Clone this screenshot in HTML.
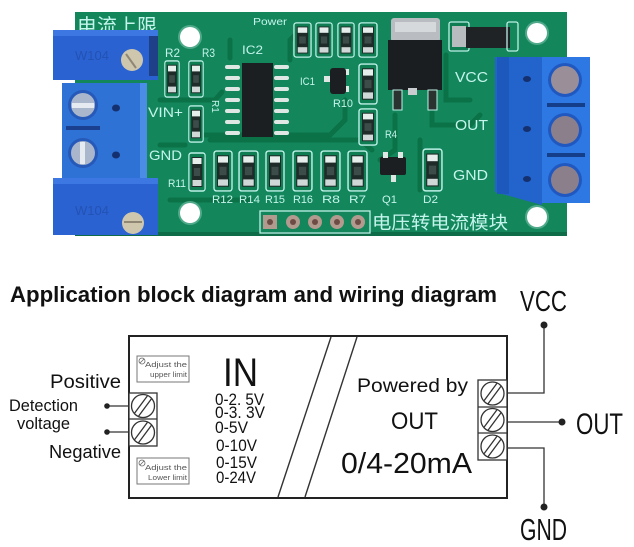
<!DOCTYPE html>
<html><head><meta charset="utf-8"><style>
html,body{margin:0;padding:0;background:#fff;}
svg{display:block;}
</style></head><body>
<svg width="634" height="547" viewBox="0 0 634 547" xmlns="http://www.w3.org/2000/svg">
<defs>
<symbol id="res" viewBox="0 0 20 40" preserveAspectRatio="none">
<rect x="1" y="1" width="18" height="38" rx="2.5" fill="#0f7d52" stroke="#bdf0e8" stroke-width="1.4"/>
<rect x="4" y="5" width="12" height="30" fill="#1e2b28"/>
<rect x="5" y="6" width="10" height="6" fill="#e6eeec"/>
<rect x="5" y="28" width="10" height="6" fill="#cfd8d6"/>
<rect x="6.5" y="16" width="7" height="8" fill="#3c4c48"/>
</symbol>
</defs>
<rect width="634" height="547" fill="#fff"/>

<!-- ===== PCB PHOTO ===== -->
<rect x="75" y="12" width="492" height="223" fill="#13875b"/>
<rect x="75" y="232" width="492" height="4" fill="#0e6d48"/>
<!-- traces -->
<g fill="none" stroke="#0b7147" stroke-width="5" stroke-linecap="round">
<path d="M160 100 L215 100 L222 92"/>
<path d="M160 145 L185 145"/>
<path d="M205 135 L330 135 L345 120 L345 100"/>
<path d="M210 140 L360 140 L372 150"/>
<path d="M395 115 L395 150 L380 160"/>
<path d="M432 112 L432 125 L470 125 L480 115"/>
<path d="M420 140 L420 190"/>
<path d="M230 40 L230 58"/>
<path d="M290 60 L290 40 L300 30"/>
<path d="M446 55 L446 100 L470 100"/>
<path d="M170 200 L250 200"/>
</g>
<!-- holes -->
<circle cx="190" cy="37" r="12" fill="#4fa98a"/><circle cx="190" cy="37" r="10" fill="#fff"/>
<circle cx="190" cy="213" r="12" fill="#4fa98a"/><circle cx="190" cy="213" r="10" fill="#fff"/>
<circle cx="537" cy="33" r="12" fill="#4fa98a"/><circle cx="537" cy="33" r="10" fill="#fff"/>
<circle cx="537" cy="217" r="12" fill="#4fa98a"/><circle cx="537" cy="217" r="10" fill="#fff"/>

<!-- silkscreen text -->
<g fill="#c4f4ec" font-family="Liberation Sans, sans-serif">
<text x="77" y="33" font-size="20" font-family="Liberation Sans, Noto Sans CJK SC, sans-serif" textLength="80" lengthAdjust="spacingAndGlyphs">电流上限</text>
<text x="253" y="25" font-size="10" textLength="34" lengthAdjust="spacingAndGlyphs">Power</text>
<text x="165" y="57" font-size="12" textLength="15" lengthAdjust="spacingAndGlyphs">R2</text>
<text x="202" y="57" font-size="12" textLength="13" lengthAdjust="spacingAndGlyphs">R3</text>
<text x="242" y="54" font-size="12" textLength="21" lengthAdjust="spacingAndGlyphs">IC2</text>
<text x="300" y="85" font-size="11" textLength="15" lengthAdjust="spacingAndGlyphs">IC1</text>
<text x="333" y="107" font-size="11" textLength="20" lengthAdjust="spacingAndGlyphs">R10</text>
<text x="385" y="138" font-size="11" textLength="12" lengthAdjust="spacingAndGlyphs">R4</text>
<text x="148" y="117" font-size="14" textLength="35" lengthAdjust="spacingAndGlyphs">VIN+</text>
<text x="149" y="160" font-size="14" textLength="33" lengthAdjust="spacingAndGlyphs">GND</text>
<text x="168" y="187" font-size="11" textLength="18" lengthAdjust="spacingAndGlyphs">R11</text>
<text x="212" y="203" font-size="11" textLength="21" lengthAdjust="spacingAndGlyphs">R12</text>
<text x="239" y="203" font-size="11" textLength="21" lengthAdjust="spacingAndGlyphs">R14</text>
<text x="265" y="203" font-size="11" textLength="20" lengthAdjust="spacingAndGlyphs">R15</text>
<text x="293" y="203" font-size="11" textLength="20" lengthAdjust="spacingAndGlyphs">R16</text>
<text x="322" y="203" font-size="11" textLength="18" lengthAdjust="spacingAndGlyphs">R8</text>
<text x="349" y="203" font-size="11" textLength="17" lengthAdjust="spacingAndGlyphs">R7</text>
<text x="382" y="203" font-size="11" textLength="15" lengthAdjust="spacingAndGlyphs">Q1</text>
<text x="423" y="203" font-size="11" textLength="15" lengthAdjust="spacingAndGlyphs">D2</text>
<text x="455" y="82" font-size="15" textLength="33" lengthAdjust="spacingAndGlyphs">VCC</text>
<text x="455" y="130" font-size="15" textLength="33" lengthAdjust="spacingAndGlyphs">OUT</text>
<text x="453" y="180" font-size="15" textLength="35" lengthAdjust="spacingAndGlyphs">GND</text>
<text x="372" y="229" font-size="18" font-family="Liberation Sans, Noto Sans CJK SC, sans-serif" textLength="136" lengthAdjust="spacingAndGlyphs">电压转电流模块</text>
</g>
<text x="212" y="100" font-size="10" fill="#c4f4ec" font-family="Liberation Sans, sans-serif" transform="rotate(90 212 100)">R1</text>

<!-- resistors -->
<use href="#res" x="164" y="60" width="16" height="38"/>
<use href="#res" x="188" y="60" width="16" height="38"/>
<use href="#res" x="188" y="105" width="16" height="38"/>
<use href="#res" x="188" y="152" width="18" height="40"/>
<use href="#res" x="213" y="150" width="20" height="42"/>
<use href="#res" x="238" y="150" width="21" height="42"/>
<use href="#res" x="265" y="150" width="20" height="42"/>
<use href="#res" x="292" y="150" width="21" height="42"/>
<use href="#res" x="320" y="150" width="21" height="42"/>
<use href="#res" x="347" y="150" width="21" height="42"/>
<use href="#res" x="293" y="22" width="19" height="36"/>
<use href="#res" x="315" y="22" width="18" height="36"/>
<use href="#res" x="337" y="22" width="18" height="36"/>
<use href="#res" x="358" y="22" width="20" height="36"/>
<use href="#res" x="358" y="63" width="20" height="42"/>
<use href="#res" x="358" y="108" width="20" height="38"/>
<use href="#res" x="422" y="148" width="21" height="44"/>

<!-- IC2 -->
<g fill="#dfe7e5">
<rect x="225" y="65" width="15" height="4" rx="2"/><rect x="225" y="76" width="15" height="4" rx="2"/><rect x="225" y="87" width="15" height="4" rx="2"/><rect x="225" y="98" width="15" height="4" rx="2"/><rect x="225" y="109" width="15" height="4" rx="2"/><rect x="225" y="120" width="15" height="4" rx="2"/><rect x="225" y="131" width="15" height="4" rx="2"/>
<rect x="274" y="65" width="15" height="4" rx="2"/><rect x="274" y="76" width="15" height="4" rx="2"/><rect x="274" y="87" width="15" height="4" rx="2"/><rect x="274" y="98" width="15" height="4" rx="2"/><rect x="274" y="109" width="15" height="4" rx="2"/><rect x="274" y="120" width="15" height="4" rx="2"/><rect x="274" y="131" width="15" height="4" rx="2"/>
</g>
<rect x="242" y="63" width="31" height="74" fill="#1b1f22"/>
<!-- IC1 -->
<rect x="324" y="76" width="8" height="6" fill="#dfe7e5"/>
<rect x="343" y="69" width="6" height="6" fill="#dfe7e5"/><rect x="343" y="86" width="6" height="6" fill="#dfe7e5"/>
<rect x="330" y="68" width="16" height="26" rx="3" fill="#1b1f22"/>
<!-- Q1 -->
<rect x="380" y="157" width="26" height="18" rx="2" fill="#1b1f22"/>
<rect x="383" y="152" width="5" height="6" fill="#dfe7e5"/><rect x="398" y="152" width="5" height="6" fill="#dfe7e5"/><rect x="391" y="175" width="5" height="7" fill="#dfe7e5"/>
<!-- regulator -->
<rect x="391" y="18" width="49" height="24" rx="3" fill="#b9bdc1"/>
<rect x="395" y="22" width="41" height="10" fill="#d6d9dc"/>
<rect x="388" y="40" width="54" height="50" fill="#1a1e21"/>
<rect x="393" y="90" width="9" height="20" fill="#2a332f" stroke="#bdf0e8" stroke-width="1"/>
<rect x="428" y="90" width="9" height="20" fill="#2a332f" stroke="#bdf0e8" stroke-width="1"/>
<rect x="408" y="88" width="9" height="7" fill="#c9cdd0"/>
<!-- diode -->
<rect x="449" y="22" width="20" height="29" rx="2" fill="#0f7d52" stroke="#bdf0e8" stroke-width="1.3"/>
<rect x="452" y="26" width="14" height="21" fill="#b7bcbf"/>
<rect x="466" y="27" width="44" height="21" fill="#1f2326"/>
<rect x="507" y="22" width="11" height="29" rx="2" fill="none" stroke="#bdf0e8" stroke-width="1.3"/>
<!-- header -->
<rect x="260" y="211" width="110" height="22" fill="none" stroke="#bdf0e8" stroke-width="1.3"/>
<rect x="263" y="215" width="14" height="14" fill="#b29a8e"/>
<circle cx="293" cy="222" r="7" fill="#b29a8e"/><circle cx="315" cy="222" r="7" fill="#b29a8e"/><circle cx="337" cy="222" r="7" fill="#b29a8e"/><circle cx="358" cy="222" r="7" fill="#b29a8e"/>
<g fill="#6d4c45"><circle cx="270" cy="222" r="3"/><circle cx="293" cy="222" r="3"/><circle cx="315" cy="222" r="3"/><circle cx="337" cy="222" r="3"/><circle cx="358" cy="222" r="3"/></g>

<!-- top pot -->
<path d="M53 33 L60 30 L150 30 L158 34 L158 80 L53 80 Z" fill="#2b62d1"/>
<rect x="53" y="30" width="105" height="6" fill="#3d78e2"/>
<rect x="149" y="36" width="9" height="40" fill="#1f3f88"/>
<text x="75" y="60" font-size="13" fill="#2352b4" font-family="Liberation Sans, sans-serif">W104</text>
<circle cx="132" cy="60" r="11" fill="#cfc6ae"/>
<line x1="126" y1="54" x2="136" y2="68" stroke="#8f8774" stroke-width="2"/>
<!-- left terminal -->
<rect x="62" y="83" width="80" height="99" fill="#2f72d6"/>
<rect x="140" y="83" width="7" height="99" fill="#4a8ce6"/>
<rect x="66" y="126" width="34" height="4" fill="#1a3f8f"/>
<circle cx="83" cy="105" r="15" fill="#2659b8"/><circle cx="83" cy="105" r="12" fill="#a9b6cc"/>
<rect x="72" y="103" width="22" height="5" fill="#e6ebf2"/>
<circle cx="83" cy="153" r="15" fill="#2659b8"/><circle cx="83" cy="153" r="12" fill="#a9b6cc"/>
<rect x="80" y="142" width="5" height="22" fill="#e6ebf2"/>
<ellipse cx="116" cy="108" rx="4" ry="3.5" fill="#15306e"/><ellipse cx="116" cy="155" rx="4" ry="3.5" fill="#15306e"/>
<!-- bottom pot -->
<path d="M53 180 L150 178 L158 182 L158 235 L53 235 Z" fill="#2b62d1"/>
<rect x="53" y="178" width="105" height="6" fill="#3d78e2"/>
<text x="75" y="215" font-size="13" fill="#2352b4" font-family="Liberation Sans, sans-serif">W104</text>
<circle cx="133" cy="223" r="11" fill="#cfc6ae"/>
<line x1="124" y1="222" x2="142" y2="222" stroke="#8f8774" stroke-width="2"/>
<!-- right terminal -->
<polygon points="495,57 542,57 542,205 495,192" fill="#2263cc"/>
<rect x="497" y="57" width="12" height="137" fill="#1d58bc"/>
<rect x="542" y="57" width="48" height="146" fill="#2d78e2"/>
<rect x="547" y="103" width="38" height="4" fill="#143e8a"/>
<rect x="547" y="153" width="38" height="4" fill="#143e8a"/>
<g>
<circle cx="565" cy="80" r="17" fill="#2058c0"/><circle cx="565" cy="80" r="14" fill="#9a8e98"/>
<circle cx="565" cy="130" r="17" fill="#2058c0"/><circle cx="565" cy="130" r="14" fill="#8c7f8c"/>
<circle cx="565" cy="180" r="17" fill="#2058c0"/><circle cx="565" cy="180" r="14" fill="#8c7f8c"/>
</g>
<ellipse cx="527" cy="79" rx="4" ry="3" fill="#15306e"/><ellipse cx="527" cy="129" rx="4" ry="3" fill="#15306e"/><ellipse cx="527" cy="179" rx="4" ry="3" fill="#15306e"/>

<!-- ===== DIAGRAM ===== -->
<text x="10" y="302" font-family="Liberation Sans, sans-serif" font-weight="bold" font-size="22" fill="#111" textLength="487" lengthAdjust="spacingAndGlyphs">Application block diagram and wiring diagram</text>

<rect x="129" y="336" width="378" height="162" fill="none" stroke="#222" stroke-width="2"/>
<line x1="331" y1="337" x2="278" y2="497" stroke="#333" stroke-width="1.4"/>
<line x1="357" y1="337" x2="305" y2="497" stroke="#333" stroke-width="1.4"/>

<!-- adjust boxes -->
<g font-family="Liberation Sans, sans-serif" fill="#555" font-size="7.5">
<rect x="137" y="356" width="52" height="26" fill="#fff" stroke="#777" stroke-width="1"/>
<circle cx="142" cy="361" r="3" fill="none" stroke="#666" stroke-width="0.8"/>
<line x1="140" y1="363" x2="144" y2="359" stroke="#666" stroke-width="0.8"/>
<text x="145" y="367" textLength="42" lengthAdjust="spacingAndGlyphs">Adjust the</text>
<text x="150" y="377" textLength="37" lengthAdjust="spacingAndGlyphs">upper limit</text>
<rect x="137" y="458" width="52" height="26" fill="#fff" stroke="#777" stroke-width="1"/>
<circle cx="142" cy="463" r="3" fill="none" stroke="#666" stroke-width="0.8"/>
<line x1="140" y1="465" x2="144" y2="461" stroke="#666" stroke-width="0.8"/>
<text x="145" y="470" textLength="42" lengthAdjust="spacingAndGlyphs">Adjust the</text>
<text x="148" y="480" textLength="39" lengthAdjust="spacingAndGlyphs">Lower limit</text>
</g>

<!-- left terminal -->
<g stroke="#333" stroke-width="1.3" fill="none">
<rect x="129" y="393" width="28" height="53" fill="#fff"/>
<line x1="129" y1="419" x2="157" y2="419"/>
<circle cx="143" cy="406" r="11.5"/>
<line x1="134.6" y1="413.1" x2="147.4" y2="395.9"/>
<line x1="138.6" y1="416.1" x2="151.4" y2="398.9"/>
<circle cx="143" cy="432.5" r="11.5"/>
<line x1="134.6" y1="439.6" x2="147.4" y2="422.4"/>
<line x1="138.6" y1="442.6" x2="151.4" y2="425.4"/>
<line x1="107" y1="406" x2="129" y2="406"/>
<line x1="107" y1="432" x2="129" y2="432"/>
</g>
<circle cx="107" cy="406" r="2.8" fill="#222"/>
<circle cx="107" cy="432" r="2.8" fill="#222"/>

<!-- right terminal -->
<g stroke="#333" stroke-width="1.3" fill="none">
<rect x="478" y="380" width="29" height="80" fill="#fff"/>
<line x1="478" y1="407" x2="507" y2="407"/>
<line x1="478" y1="433" x2="507" y2="433"/>
<circle cx="492.5" cy="393.5" r="11.5"/>
<line x1="484.1" y1="400.6" x2="496.9" y2="383.4"/>
<line x1="488.1" y1="403.6" x2="500.9" y2="386.4"/>
<circle cx="492.5" cy="420" r="11.5"/>
<line x1="484.1" y1="427.1" x2="496.9" y2="409.9"/>
<line x1="488.1" y1="430.1" x2="500.9" y2="412.9"/>
<circle cx="492.5" cy="446.5" r="11.5"/>
<line x1="484.1" y1="453.6" x2="496.9" y2="436.4"/>
<line x1="488.1" y1="456.6" x2="500.9" y2="439.4"/>
<polyline points="507,393 544,393 544,325"/>
<line x1="507" y1="422" x2="562" y2="422"/>
<polyline points="507,448 544,448 544,507"/>
</g>
<circle cx="544" cy="325" r="3.5" fill="#222"/>
<circle cx="562" cy="422" r="3.5" fill="#222"/>
<circle cx="544" cy="507" r="3.5" fill="#222"/>

<!-- diagram labels -->
<g font-family="Liberation Sans, sans-serif" fill="#111">
<text x="50" y="388" font-size="19" textLength="71" lengthAdjust="spacingAndGlyphs">Positive</text>
<text x="9" y="411" font-size="16.5" textLength="69" lengthAdjust="spacingAndGlyphs">Detection</text>
<text x="17" y="429" font-size="16.5" textLength="53" lengthAdjust="spacingAndGlyphs">voltage</text>
<text x="49" y="458" font-size="18.5" textLength="72" lengthAdjust="spacingAndGlyphs">Negative</text>
<text x="223" y="386" font-size="40" textLength="35" lengthAdjust="spacingAndGlyphs">IN</text>
<text x="215" y="405" font-size="16.5" textLength="49" lengthAdjust="spacingAndGlyphs">0-2. 5V</text>
<text x="215" y="418" font-size="16.5" textLength="50" lengthAdjust="spacingAndGlyphs">0-3. 3V</text>
<text x="215" y="433" font-size="16.5" textLength="33" lengthAdjust="spacingAndGlyphs">0-5V</text>
<text x="216" y="451" font-size="16.5" textLength="41" lengthAdjust="spacingAndGlyphs">0-10V</text>
<text x="216" y="468" font-size="16.5" textLength="41" lengthAdjust="spacingAndGlyphs">0-15V</text>
<text x="216" y="483" font-size="16.5" textLength="40" lengthAdjust="spacingAndGlyphs">0-24V</text>
<text x="357" y="392" font-size="19.5" textLength="111" lengthAdjust="spacingAndGlyphs">Powered by</text>
<text x="391" y="429" font-size="24" textLength="47" lengthAdjust="spacingAndGlyphs">OUT</text>
<text x="341" y="473" font-size="29" textLength="131" lengthAdjust="spacingAndGlyphs">0/4-20mA</text>
<text x="520" y="311" font-size="29" textLength="47" lengthAdjust="spacingAndGlyphs">VCC</text>
<text x="576" y="434" font-size="30" textLength="47" lengthAdjust="spacingAndGlyphs">OUT</text>
<text x="520" y="540" font-size="31" textLength="47" lengthAdjust="spacingAndGlyphs">GND</text>
</g>
</svg>
</body></html>
